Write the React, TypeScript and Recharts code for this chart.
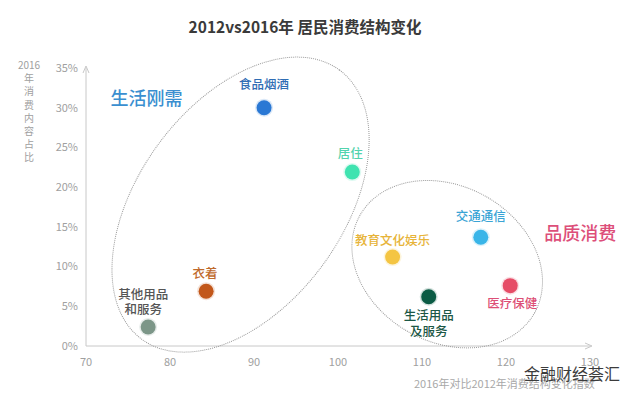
import React from 'react';
import { ScatterChart, Scatter, XAxis, YAxis, ReferenceDot } from 'recharts';

// ---------- data ----------
const categories = ['食品烟酒', '居住', '衣着', '其他用品和服务', '教育文化娱乐', '交通通信', '医疗保健', '生活用品及服务'];
const changeIndex = [91.2, 101.7, 84.3, 77.4, 106.5, 117.0, 120.5, 110.8]; // 2016 vs 2012 index
const share2016 = [30.0, 21.9, 6.9, 2.4, 11.2, 13.7, 7.6, 6.2]; // % of 2016 consumption
const xTicks = [70, 80, 90, 100, 110, 120, 130];
const yTicks = [0, 5, 10, 15, 20, 25, 30, 35];
const groupNames = ['生活刚需', '品质消费'];
const groupCenterX = [88.4, 113.0];
const groupCenterY = [17.8, 10.3];

const title = '2012vs2016年 居民消费结构变化';
const xTitle = '2016年对比2012年消费结构变化指数';
const yTitleTop = '2016';
const yTitleChars = ['年', '消', '费', '内', '容', '占', '比'];
const watermark = '金融财经荟汇';

// ---------- styles ----------
type LabelCfg = { color: string; text: string; lines: string[]; dx: number; dy: number; gap: number };
const pointStyle: Record<string, LabelCfg> = {
  '食品烟酒': { color: '#2a78d4', text: '#2f6db4', lines: ['食品烟酒'], dx: 0, dy: -24, gap: 15 },
  '居住': { color: '#3fe3b0', text: '#52d3ad', lines: ['居住'], dx: -2, dy: -20, gap: 15 },
  '衣着': { color: '#c2571a', text: '#bf6a2c', lines: ['衣着'], dx: -1, dy: -19, gap: 15 },
  '其他用品和服务': { color: '#7c9688', text: '#555555', lines: ['其他用品', '和服务'], dx: -5, dy: -33, gap: 15 },
  '教育文化娱乐': { color: '#f4c543', text: '#e7b43a', lines: ['教育文化娱乐'], dx: 0, dy: -18, gap: 15 },
  '交通通信': { color: '#39b5e8', text: '#3aa4d5', lines: ['交通通信'], dx: 0, dy: -22, gap: 15 },
  '医疗保健': { color: '#e64d67', text: '#dd4f76', lines: ['医疗保健'], dx: 2, dy: 17, gap: 15 },
  '生活用品及服务': { color: '#0b5b44', text: '#1c5846', lines: ['生活用品', '及服务'], dx: 0, dy: 18, gap: 16 },
};

type GroupCfg = { rx: number; ry: number; rot: number; color: string; ldx: number; ldy: number };
const groupStyle: Record<string, GroupCfg> = {
  '生活刚需': { rx: 167, ry: 102, rot: -53.7, color: '#3a8fd0', ldx: -94, ldy: -108 },
  '品质消费': { rx: 100, ry: 78, rot: 29, color: '#dd4f7a', ldx: 133, ldy: -32 },
};

const points = categories.map((name, i) => ({ name, x: changeIndex[i], y: share2016[i] }));
const groups = groupNames.map((name, i) => ({ name, x: groupCenterX[i], y: groupCenterY[i] }));

const CJK = '"Noto Sans CJK SC", "Noto Sans", sans-serif';

const PointShape = (props: any) => {
  const { cx, cy, payload } = props;
  const s = pointStyle[payload.name];
  return (
    <g>
      <circle cx={cx} cy={cy} r={9} fill={s.color} opacity={0.18} />
      <circle cx={cx} cy={cy} r={7.5} fill={s.color} />
      {s.lines.map((t, i) => (
        <text
          key={i}
          x={cx + s.dx}
          y={cy + s.dy + i * s.gap}
          textAnchor="middle"
          dominantBaseline="central"
          fill={s.text}
          fontSize={12.5}
          fontWeight={500}
          fontFamily={CJK}
        >
          {t}
        </text>
      ))}
    </g>
  );
};

const GroupShape = (props: any) => {
  const { cx, cy, payload } = props;
  const g = groupStyle[payload.name];
  return (
    <g>
      <ellipse
        cx={cx}
        cy={cy}
        rx={g.rx}
        ry={g.ry}
        transform={`rotate(${g.rot} ${cx} ${cy})`}
        fill="none"
        stroke="#9a9a9a"
        strokeWidth={1}
        strokeDasharray="1 1"
      />
      <text
        x={cx + g.ldx}
        y={cy + g.ldy}
        textAnchor="middle"
        dominantBaseline="central"
        fill={g.color}
        fontSize={18}
        fontWeight={500}
        fontFamily={CJK}
      >
        {payload.name}
      </text>
    </g>
  );
};

const XArrow = (props: any) => {
  const { cx, cy } = props;
  return <path d={`M${cx - 5},${cy - 3} L${cx + 2},${cy} L${cx - 5},${cy + 3}`} fill="none" stroke="#c8c8c8" strokeWidth={1} />;
};
const YArrow = (props: any) => {
  const { cx, cy } = props;
  return <path d={`M${cx - 3},${cy + 5} L${cx},${cy - 2} L${cx + 3},${cy + 5}`} fill="none" stroke="#c8c8c8" strokeWidth={1} />;
};

export default function App() {
  return (
    <div
      style={{
        position: 'absolute',
        left: 0,
        top: 0,
        width: 640,
        height: 401,
        background: '#ffffff',
        fontFamily: CJK,
        overflow: 'hidden',
      }}
    >
      <ScatterChart width={640} height={401} margin={{ top: 68, right: 50, bottom: 25, left: 46 }}>
        <XAxis
          type="number"
          dataKey="x"
          domain={[70, 130]}
          ticks={xTicks}
          height={30}
          tickLine={false}
          tickMargin={6}
          axisLine={{ stroke: '#c8c8c8' }}
          tick={{ fill: '#a0a0a0', fontSize: 11 }}
        />
        <YAxis
          type="number"
          dataKey="y"
          domain={[0, 35]}
          ticks={yTicks}
          width={40}
          tickLine={false}
          axisLine={{ stroke: '#c8c8c8' }}
          tickFormatter={(v: number) => `${v}%`}
          tick={{ fill: '#a0a0a0', fontSize: 11 }}
        />
        <Scatter data={groups} shape={GroupShape} isAnimationActive={false} />
        <Scatter data={points} shape={PointShape} isAnimationActive={false} />
        <ReferenceDot x={130} y={0} r={3} shape={XArrow} ifOverflow="visible" />
        <ReferenceDot x={70} y={35} r={3} shape={YArrow} ifOverflow="visible" />
      </ScatterChart>

      <div
        style={{
          position: 'absolute',
          left: 0,
          width: 610,
          top: 16,
          textAlign: 'center',
          fontSize: 15.5,
          fontWeight: 700,
          color: '#3a3a3a',
          lineHeight: '20px',
        }}
      >
        {title}
      </div>

      <div
        style={{
          position: 'absolute',
          left: 14,
          width: 30,
          top: 58,
          textAlign: 'center',
          fontSize: 10,
          color: '#a0a0a0',
          lineHeight: '13.2px',
        }}
      >
        <div>{yTitleTop}</div>
        {yTitleChars.map((c, i) => (
          <div key={i}>{c}</div>
        ))}
      </div>

      <div
        style={{
          position: 'absolute',
          left: 414,
          top: 375,
          fontSize: 11,
          color: '#a8a8a8',
          lineHeight: '16px',
          whiteSpace: 'nowrap',
        }}
      >
        {xTitle}
      </div>

      <div
        style={{
          position: 'absolute',
          left: 524,
          top: 362,
          fontSize: 16,
          color: '#3c3c3c',
          lineHeight: '22px',
          whiteSpace: 'nowrap',
        }}
      >
        {watermark}
      </div>
    </div>
  );
}
